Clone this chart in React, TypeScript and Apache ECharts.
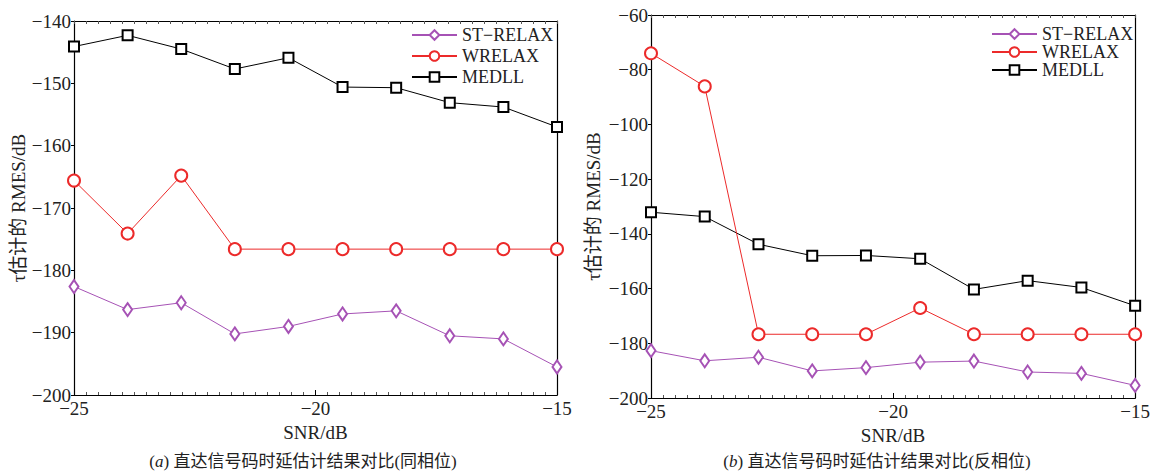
import React, { useEffect, useRef } from "react";
import * as echarts from "echarts";

const snr = [-25, -23.89, -22.78, -21.67, -20.56, -19.44, -18.33, -17.22, -16.11, -15];

const stRelaxA = [-182.6, -186.3, -185.2, -190.2, -189.0, -187.0, -186.5, -190.5, -191.0, -195.5];
const wRelaxA = [-165.6, -174.1, -164.8, -176.6, -176.6, -176.6, -176.6, -176.6, -176.6, -176.6];
const medllA = [-144.1, -142.3, -144.5, -147.7, -145.9, -150.6, -150.7, -153.1, -153.8, -157.0];

const stRelaxB = [-182.7, -186.4, -185.1, -190.1, -188.9, -186.9, -186.5, -190.5, -191.0, -195.4];
const wRelaxB = [-74.0, -86.1, -176.7, -176.7, -176.7, -167.1, -176.7, -176.7, -176.7, -176.7];
const medllB = [-132.1, -133.7, -143.8, -148.0, -147.9, -149.1, -160.3, -157.1, -159.6, -166.3];

const seriesNames = ["ST\u2212RELAX", "WRELAX", "MEDLL"];
const xTicks = { min: -25, max: -15, interval: 5 };
const yTicksA = { min: -200, max: -140, interval: 10 };
const yTicksB = { min: -200, max: -60, interval: 20 };
const captionA = "直达信号码时延估计结果对比(同相位)";
const captionB = "直达信号码时延估计结果对比(反相位)";
const yName = "\u03c4估计的 RMES/dB";
const xName = "SNR/dB";

const FONT = '"Liberation Serif", "Times New Roman", "Noto Sans CJK SC", serif';
const TXT = "#222";
const COLORS = ["#a652b5", "#ec2a2a", "#000000"];
const SYMBOLS = ["emptyDiamond", "emptyCircle", "emptyRect"];
const SIZES: any[] = [[9, 13], 12, 10];
const FS = 19;

const fmt = (v: number) => String(v).replace("-", "\u2212");

function pairs(vals: number[]) {
  return snr.map((x, i) => [x, vals[i]]);
}

export default function App() {
  const ref = useRef<HTMLDivElement>(null);
  useEffect(() => {
    document.body.style.margin = "0";
    const chart = echarts.init(ref.current!, null, { renderer: "svg" });

    const grids = [
      { left: 74, top: 21, width: 483, height: 374 },
      { left: 651, top: 15, width: 489, height: 383 },
    ];

    const xAxisBottom = (gi: number, gap: number) => ({
      type: "value",
      gridIndex: gi,
      min: xTicks.min,
      max: xTicks.max,
      interval: xTicks.interval,
      name: xName,
      nameLocation: "middle",
      nameGap: gap,
      nameTextStyle: { fontFamily: FONT, fontSize: FS, color: TXT },
      axisLine: { show: true, lineStyle: { color: "#000", width: 1.2 } },
      axisTick: { show: true, inside: true, length: 5, lineStyle: { color: "#000" } },
      minorTick: { show: true, splitNumber: 20, length: 3, lineStyle: { color: "#555" } },
      axisLabel: { fontFamily: FONT, fontSize: FS, color: TXT, margin: 4, formatter: fmt },
      splitLine: { show: false },
    });
    const xAxisTop = (gi: number) => ({
      type: "value",
      gridIndex: gi,
      position: "top",
      min: xTicks.min,
      max: xTicks.max,
      interval: xTicks.interval,
      axisLine: { show: true, lineStyle: { color: "#000", width: 1.2 } },
      axisTick: { show: true, inside: true, length: 3, lineStyle: { color: "#555" } },
      minorTick: { show: true, splitNumber: 20, length: 3, lineStyle: { color: "#555" } },
      axisLabel: { show: false },
      splitLine: { show: false },
    });
    const yAxis = (gi: number, t: any, gap: number) => ({
      type: "value",
      gridIndex: gi,
      min: t.min,
      max: t.max,
      interval: t.interval,
      name: yName,
      nameLocation: "middle",
      nameGap: gap,
      nameTextStyle: { fontFamily: FONT, fontSize: FS, color: TXT },
      axisLine: { show: true, lineStyle: { color: "#000", width: 1.2 } },
      axisTick: { show: true, inside: false, length: 3, lineStyle: { color: "#000" } },
      axisLabel: { fontFamily: FONT, fontSize: FS, color: TXT, margin: 3, formatter: fmt },
      splitLine: { show: false },
    });
    const yAxisRight = (gi: number, t: any) => ({
      type: "value",
      gridIndex: gi,
      position: "right",
      min: t.min,
      max: t.max,
      interval: t.interval,
      axisLine: { show: true, lineStyle: { color: "#000", width: 1.2 } },
      axisTick: { show: false },
      axisLabel: { show: false },
      splitLine: { show: false },
    });

    const mk = (gi: number, idx: number, vals: number[]) => ({
      type: "line",
      name: seriesNames[idx],
      xAxisIndex: gi * 2,
      yAxisIndex: gi * 2,
      data: pairs(vals),
      symbol: SYMBOLS[idx],
      symbolSize: SIZES[idx],
      showAllSymbol: true,
      lineStyle: { color: COLORS[idx], width: 1 },
      itemStyle: { color: COLORS[idx], borderColor: COLORS[idx], borderWidth: 1 },
      z: 3 - idx,
    });

    const legend = (left: number, top: number, gap: number, fs: number) => ({
      left,
      top,
      orient: "vertical",
      itemWidth: 45,
      itemHeight: 12,
      itemGap: gap,
      data: seriesNames,
      selectedMode: false,
      textStyle: { fontFamily: FONT, fontSize: fs, color: TXT },
    });

    const caption = (cx: number, letter: string, text: string) => ({
      type: "text",
      x: cx,
      y: 461,
      style: {
        text: "(" + "{i|" + letter + "}" + ") " + text,
        align: "center",
        verticalAlign: "middle",
        fontFamily: FONT,
        fontSize: 17,
        fill: TXT,
        rich: { i: { fontStyle: "italic", fontFamily: FONT, fontSize: 17, fill: TXT } },
      },
    });

    chart.setOption({
      animation: false,
      backgroundColor: "#fff",
      grid: grids.map((g) => ({ ...g, show: false })),
      xAxis: [xAxisBottom(0, 23), xAxisTop(0), xAxisBottom(1, 27), xAxisTop(1)],
      yAxis: [yAxis(0, yTicksA, 45), yAxisRight(0, yTicksA), yAxis(1, yTicksB, 48), yAxisRight(1, yTicksB)],
      legend: [legend(406, 21, 3, 18), legend(986, 20, 0, 18)],
      series: [
        mk(0, 0, stRelaxA),
        mk(0, 1, wRelaxA),
        mk(0, 2, medllA),
        mk(1, 0, stRelaxB),
        mk(1, 1, wRelaxB),
        mk(1, 2, medllB),
      ],
      graphic: [caption(303, "a", captionA), caption(877, "b", captionB)],
    });
    return () => chart.dispose();
  }, []);
  return <div ref={ref} style={{ width: 1153, height: 472 }} />;
}
